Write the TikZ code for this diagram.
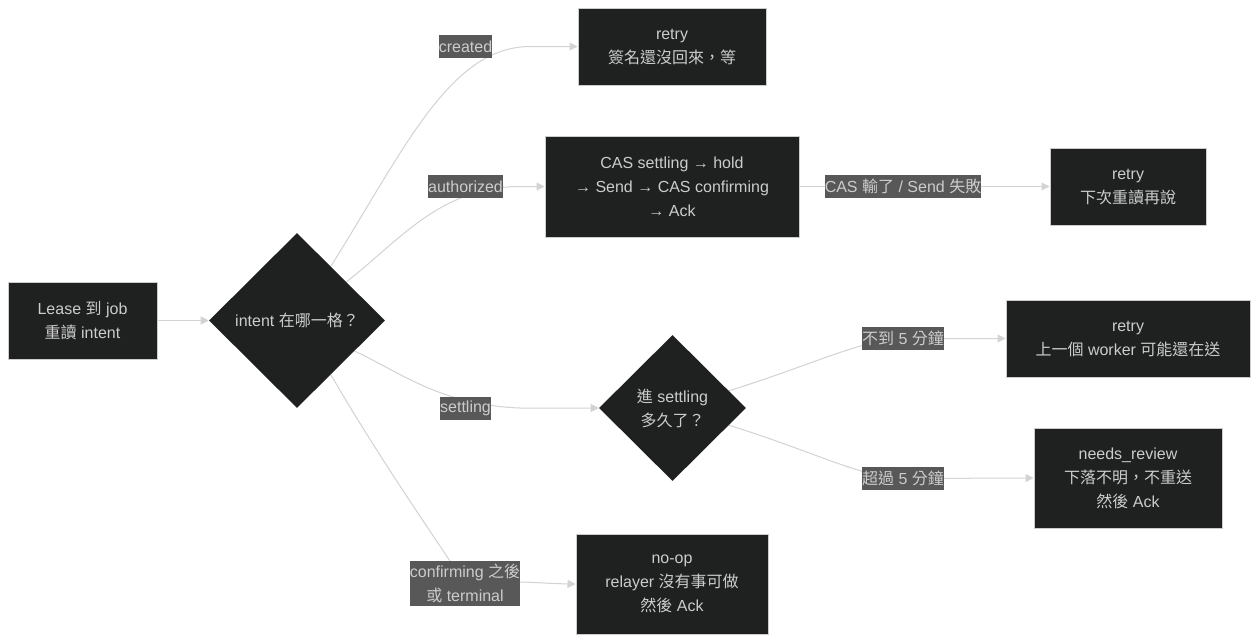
\documentclass[tikz,border=0pt]{standalone}
\usepackage{fontspec}
\setmainfont{Liberation Sans}
\newfontfamily\cjkfont{Noto Sans CJK TC}
\newcommand\zh[1]{{\cjkfont #1}}
\usetikzlibrary{shapes.geometric,arrows.meta}
\definecolor{nodefill}{HTML}{1F2020}
\definecolor{nodeline}{HTML}{CCCCCC}
\definecolor{txt}{HTML}{CCCCCC}
\definecolor{lblbg}{HTML}{585858}
\definecolor{edgecol}{HTML}{D3D3D3}
\pgfdeclarelayer{bg}
\pgfdeclarelayer{edges}
\pgfsetlayers{bg,edges,main}
\begin{document}
\begin{tikzpicture}[x=0.75pt,y=-0.75pt,
 every node/.style={font=\fontsize{12pt}{18pt}\selectfont, text=txt, align=center},
 box/.style={draw=nodeline, line width=0.75pt, fill=nodefill, inner sep=0pt},
 dia/.style={diamond, fill=nodefill, inner sep=0pt},
 lbl/.style={fill=lblbg, inner xsep=0pt, inner ysep=2pt, minimum height=17.25pt},
 edge/.style={draw=edgecol, line width=0.75pt, -{Triangle[length=6pt,width=6pt]}}
]
\begin{pgfonlayer}{bg}
\fill[white] (0,0) rectangle (1259,643);
\end{pgfonlayer}
\useasboundingbox (0,0) rectangle (1259,643);

% nodes
\node[box, minimum width=111.75pt, minimum height=57.75pt] (A) at (82.5,320.5) {Lease \zh{到} job\\\zh{重讀} intent};
\node[dia, minimum width=132pt, minimum height=131.25pt] (B) at (297,320.5) {intent \zh{在哪一格？}};
\node[box, minimum width=141pt, minimum height=57.75pt] (C) at (672,46.5) {retry\\\zh{簽名還沒回來，等}};
\node[box, minimum width=190.5pt, minimum height=75.75pt] (D) at (672,186.5) {CAS settling → hold\\→ Send → CAS confirming\\→ Ack};
\node[box, minimum width=117pt, minimum height=57.75pt] (E) at (1128,186.5) {retry\\\zh{下次重讀再說}};
\node[dia, minimum width=110.25pt, minimum height=109.5pt] (F) at (672.5,408) {\zh{進} settling\\\zh{多久了？}};
\node[box, minimum width=183pt, minimum height=57.75pt] (G) at (1128,338.5) {retry\\\zh{上一個} worker \zh{可能還在送}};
\node[box, minimum width=141pt, minimum height=75pt] (H) at (1128,478) {needs\_review\\\zh{下落不明，不重送}\\\zh{然後} Ack};
\node[box, minimum width=144pt, minimum height=75pt] (I) at (672,584) {no-op\\relayer \zh{沒有事可做}\\\zh{然後} Ack};

% edge labels
\node[lbl] (lC) at (465.5,46.5) {created};
\node[lbl] (lD) at (465.5,186.5) {authorized};
\node[lbl] (lF) at (465.5,408) {settling};
\node[lbl] (lI) at (465,583.5) {confirming \zh{之後}\\\zh{或} terminal};
\node[lbl] (lE) at (903,186.5) {CAS \zh{輸了} / Send \zh{失敗}};
\node[lbl] (lG) at (903,338.5) {\zh{不到} 5 \zh{分鐘}};
\node[lbl] (lH) at (903,478.5) {\zh{超過} 5 \zh{分鐘}};

% bend points
\coordinate (kC) at (530,46.5);
\coordinate (kD) at (520,186.5);
\coordinate (kF) at (520,408);

% edges
\begin{pgfonlayer}{edges}
\draw[edge] (A.east) -- (B.west);
\draw[edge] (B.58) .. controls (405,148) and (450,47) .. (kC) -- (C.west);
\draw[edge] (B.38) .. controls (400,240) and (440,187) .. (kD) -- (D.west);
\draw[edge] (B.-28) .. controls (400,372) and (440,405) .. (kF) -- (F.west);
\draw[edge] (B.-58) .. controls (380,460) and (450,560) .. (lI.center) .. controls (520,580) and (540,583.5) .. (I.west);
\draw[edge] (D.east) -- (lE.center) -- (E.west);
\draw[edge] (F.17) .. controls (815,364) and (860,340) .. (lG.center) -- (G.west);
\draw[edge] (F.-17) .. controls (815,452) and (860,477) .. (lH.center) -- (H.west);
\end{pgfonlayer}
\end{tikzpicture}
\end{document}
